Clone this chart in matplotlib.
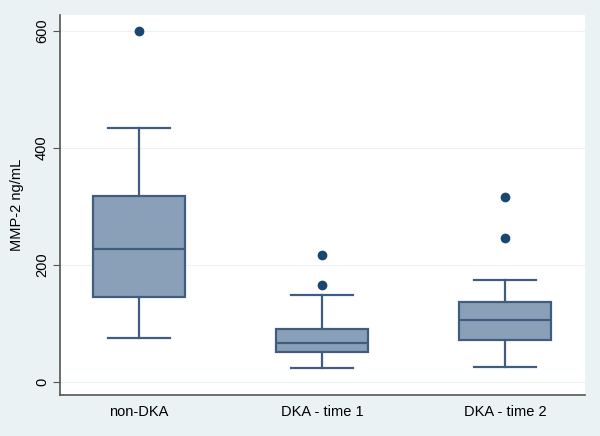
import matplotlib
matplotlib.use('Agg')
import matplotlib.pyplot as plt

plt.rcParams['font.family'] = ['Liberation Sans', 'DejaVu Sans']

# Box summaries (MMP-2, ng/mL)
groups = ['non-DKA', 'DKA - time 1', 'DKA - time 2']
whisker_lo = [75, 23, 26]
q1 = [144, 50, 72]
median = [227, 67, 105]
q3 = [318, 90, 136]
whisker_hi = [433, 148, 174]
outliers = [[600], [216, 165], [316, 245]]

bg = '#eaf2f3'
edge = '#405d80'
fill = '#8aa0b8'
dot = '#1a476f'

fig = plt.figure(figsize=(6, 4.36), dpi=100, facecolor=bg)
ax = fig.add_axes([0.1, 0.094, 0.875, 0.872])
ax.set_facecolor('white')

stats = []
for i, name in enumerate(groups):
    stats.append({'label': name, 'whislo': whisker_lo[i], 'q1': q1[i],
                  'med': median[i], 'q3': q3[i], 'whishi': whisker_hi[i],
                  'fliers': outliers[i]})

ax.bxp(stats, positions=[1, 2, 3], widths=0.5, capwidths=0.34,
       patch_artist=True,
       boxprops=dict(facecolor=fill, edgecolor=edge, linewidth=1.6),
       medianprops=dict(color=edge, linewidth=1.6),
       whiskerprops=dict(color=edge, linewidth=1.6),
       capprops=dict(color=edge, linewidth=1.6),
       flierprops=dict(marker='o', markersize=6, markerfacecolor=dot,
                       markeredgecolor=dot))

ax.set_xlim(0.568, 3.437)
ax.set_ylim(-22.7, 626.8)
ax.set_yticks([0, 200, 400, 600])
ax.set_yticklabels(['0', '200', '400', '600'], rotation=90, va='center')
ax.yaxis.grid(True, color=bg, linewidth=0.8)
ax.set_axisbelow(True)

for side in ['top', 'right']:
    ax.spines[side].set_visible(False)
for side in ['left', 'bottom']:
    ax.spines[side].set_color('#555555')
    ax.spines[side].set_linewidth(1.2)

ax.tick_params(axis='y', length=5, color='#555555', labelsize=10.5, pad=3)
ax.tick_params(axis='x', length=0, labelsize=10.5, pad=7)
ax.set_ylabel('MMP-2 ng/mL', fontsize=10.5, labelpad=8)

plt.savefig('out.png', dpi=100, facecolor=bg)
